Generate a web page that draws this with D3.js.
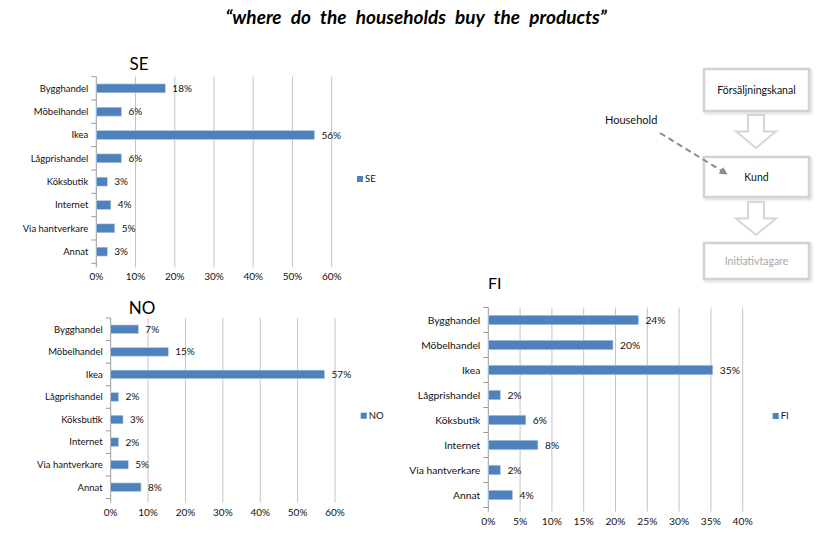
<!DOCTYPE html>
<html>
<head>
<meta charset="utf-8">
<script src="https://cdn.jsdelivr.net/npm/d3@7"></script>
<style>
  body { margin: 0; background: #fff; }
  svg text { font-family: Lato, "Open Sans", sans-serif; fill: #111; }
</style>
</head>
<body>
<div class="board"></div>
<script>
// categories, same for all three countries
var categories = ['Bygghandel', 'Möbelhandel', 'Ikea', 'Lågprishandel', 'Köksbutik', 'Internet', 'Via hantverkare', 'Annat'];

// share of households per channel, in percent
var seValues = [17.6, 6.4, 55.6, 6.4, 2.8, 3.7, 4.7, 2.8];
var noValues = [7.4, 15.4, 57.2, 2.1, 3.3, 2.1, 4.7, 8.1];
var fiValues = [23.6, 19.6, 35.3, 1.9, 5.9, 7.8, 1.9, 3.8];

var seTicks = [0, 10, 20, 30, 40, 50, 60];
var noTicks = [0, 10, 20, 30, 40, 50, 60];
var fiTicks = [0, 5, 10, 15, 20, 25, 30, 35, 40];

var flowSteps = ['Försäljningskanal', 'Kund', 'Initiativtagare'];

var w = 832, h = 540;
var svg = d3.select('.board')
	.append('svg')
	.attr('width', w)
	.attr('height', h);

svg.append('text')
	.attr('x', 416)
	.attr('y', 24)
	.attr('text-anchor', 'middle')
	.style('font-size', '19px')
	.style('word-spacing', '5px')
	.style('font-weight', 'bold')
	.style('font-style', 'italic')
	.style('fill', '#000')
	.text('\u201cwhere do the households buy the products\u201d');

function drawChart(opt){
	var x = d3.scaleLinear()
		.domain([0, opt.ticks[opt.ticks.length - 1]])
		.range([opt.left, opt.right]);
	var y = d3.scaleBand()
		.domain(categories)
		.range([opt.top, opt.bottom])
		.paddingInner(0.62)
		.paddingOuter(0.31);
	var g = svg.append('g');

	// title
	g.append('text')
		.attr('x', opt.titleX)
		.attr('y', opt.titleY)
		.attr('text-anchor', opt.titleAnchor)
		.style('font-size', opt.titleSize + 'px')
		.style('fill', '#000')
		.text(opt.name);

	// vertical gridlines (they run a bit below the plot as tick marks)
	g.selectAll('line.grid')
		.data(opt.ticks.slice(1))
		.enter()
		.append('line')
		.attr('x1', function(d){ return x(d); })
		.attr('x2', function(d){ return x(d); })
		.attr('y1', opt.top)
		.attr('y2', opt.bottom + 4)
		.style('stroke', '#c4c4c4')
		.style('stroke-width', 1);

	g.selectAll('text.tick')
		.data(opt.ticks)
		.enter()
		.append('text')
		.attr('x', function(d){ return x(d); })
		.attr('y', opt.bottom + 17)
		.attr('text-anchor', 'middle')
		.style('font-size', opt.fontSize + 'px')
		.text(function(d){ return d + '%'; });

	// category axis
	g.append('line')
		.attr('x1', x(0)).attr('x2', x(0))
		.attr('y1', opt.top).attr('y2', opt.bottom + 4)
		.style('stroke', '#9a9a9a');
	var step = y.step();
	g.selectAll('line.ytick')
		.data(d3.range(categories.length + 1))
		.enter()
		.append('line')
		.attr('x1', x(0) - 5)
		.attr('x2', x(0))
		.attr('y1', function(i){ return opt.top + i * step; })
		.attr('y2', function(i){ return opt.top + i * step; })
		.style('stroke', '#9a9a9a');

	g.selectAll('text.cat')
		.data(categories)
		.enter()
		.append('text')
		.attr('x', x(0) - 8)
		.attr('y', function(d){ return y(d) + y.bandwidth() / 2; })
		.attr('dy', '0.35em')
		.attr('text-anchor', 'end')
		.style('font-size', opt.catSize + 'px')
		.text(function(d){ return d; });

	// bars
	g.selectAll('rect.bar')
		.data(opt.values)
		.enter()
		.append('rect')
		.attr('x', x(0))
		.attr('y', function(d, i){ return y(categories[i]); })
		.attr('width', function(d){ return x(d) - x(0); })
		.attr('height', y.bandwidth())
		.style('fill', '#4f81bd')
		.style('stroke', '#b9cde5')
		.style('stroke-width', 0.6);

	g.selectAll('text.val')
		.data(opt.values)
		.enter()
		.append('text')
		.attr('x', function(d){ return x(d) + 7; })
		.attr('y', function(d, i){ return y(categories[i]) + y.bandwidth() / 2; })
		.attr('dy', '0.35em')
		.style('font-size', opt.fontSize + 'px')
		.text(function(d){ return Math.round(d) + '%'; });

	// legend
	g.append('rect')
		.attr('x', opt.legendX)
		.attr('y', opt.legendY - 3)
		.attr('width', 6)
		.attr('height', 6)
		.style('fill', '#4f81bd');
	g.append('text')
		.attr('x', opt.legendX + 8)
		.attr('y', opt.legendY)
		.attr('dy', '0.35em')
		.style('font-size', '9.5px')
		.text(opt.name);
}

drawChart({ name: 'SE', values: seValues, ticks: seTicks,
	left: 96.3, right: 331.7, top: 76.7, bottom: 263.3,
	titleX: 139, titleY: 70, titleAnchor: 'middle', titleSize: 17,
	catSize: 9.5, fontSize: 10,
	legendX: 357, legendY: 179 });
drawChart({ name: 'NO', values: noValues, ticks: noTicks,
	left: 110.7, right: 335, top: 318, bottom: 498.5,
	titleX: 142, titleY: 314, titleAnchor: 'middle', titleSize: 17,
	catSize: 9.5, fontSize: 10,
	legendX: 360.7, legendY: 415.7 });
drawChart({ name: 'FI', values: fiValues, ticks: fiTicks,
	left: 488.3, right: 742.7, top: 307.5, bottom: 507.5,
	titleX: 488, titleY: 289, titleAnchor: 'start', titleSize: 16,
	catSize: 10.3, fontSize: 10.3,
	legendX: 772.7, legendY: 416 });

// flow diagram on the right
var defs = svg.append('defs');
var shadow = defs.append('filter').attr('id', 'shadow')
	.attr('x', '-10%').attr('y', '-10%').attr('width', '130%').attr('height', '140%');
shadow.append('feDropShadow')
	.attr('dx', 1.5).attr('dy', 1.5).attr('stdDeviation', 1.2)
	.attr('flood-color', '#000').attr('flood-opacity', 0.18);
defs.append('marker')
	.attr('id', 'head')
	.attr('viewBox', '0 0 10 10')
	.attr('refX', 9).attr('refY', 5)
	.attr('markerWidth', 4).attr('markerHeight', 4)
	.attr('orient', 'auto')
	.append('path')
	.attr('d', 'M0,0 L10,5 L0,10 Z')
	.style('fill', '#8c8c8c');

var boxTops = [69, 157, 243];
var boxH = [42, 40, 36];
var boxX = 704, boxW = 105;
var flow = svg.append('g');
flow.selectAll('rect.box')
	.data(flowSteps)
	.enter()
	.append('rect')
	.attr('x', boxX)
	.attr('y', function(d, i){ return boxTops[i]; })
	.attr('width', boxW)
	.attr('height', function(d, i){ return boxH[i]; })
	.attr('filter', 'url(#shadow)')
	.style('fill', '#fff')
	.style('stroke', '#cfd3d9')
	.style('stroke-width', 2.5);
flow.selectAll('text.box')
	.data(flowSteps)
	.enter()
	.append('text')
	.attr('x', boxX + boxW / 2)
	.attr('y', function(d, i){ return boxTops[i] + boxH[i] / 2; })
	.attr('dy', '0.35em')
	.attr('text-anchor', 'middle')
	.style('font-size', '10.5px')
	.style('fill', function(d, i){ return i === 2 ? '#a8a8a8' : '#111'; })
	.text(function(d){ return d; });

// hollow arrows between the boxes
[[115, 148], [202, 235]].forEach(function(a){
	var cx = 756, t = a[0], b = a[1], mid = t + (b - t) * 0.5;
	flow.append('path')
		.attr('d', 'M' + (cx - 8) + ',' + t + ' L' + (cx + 8) + ',' + t +
			' L' + (cx + 8) + ',' + mid + ' L' + (cx + 20) + ',' + mid +
			' L' + cx + ',' + b + ' L' + (cx - 20) + ',' + mid +
			' L' + (cx - 8) + ',' + mid + ' Z')
		.style('fill', '#fff')
		.style('stroke', '#d3d6da')
		.style('stroke-width', 2);
});

flow.append('text')
	.attr('x', 605)
	.attr('y', 120)
	.attr('dy', '0.35em')
	.style('font-size', '11px')
	.style('fill', '#111')
	.text('Household');
flow.append('line')
	.attr('x1', 660).attr('y1', 133)
	.attr('x2', 727).attr('y2', 174)
	.attr('marker-end', 'url(#head)')
	.style('stroke', '#8c8c8c')
	.style('stroke-width', 2)
	.style('stroke-dasharray', '6,4');
</script>
</body>
</html>
